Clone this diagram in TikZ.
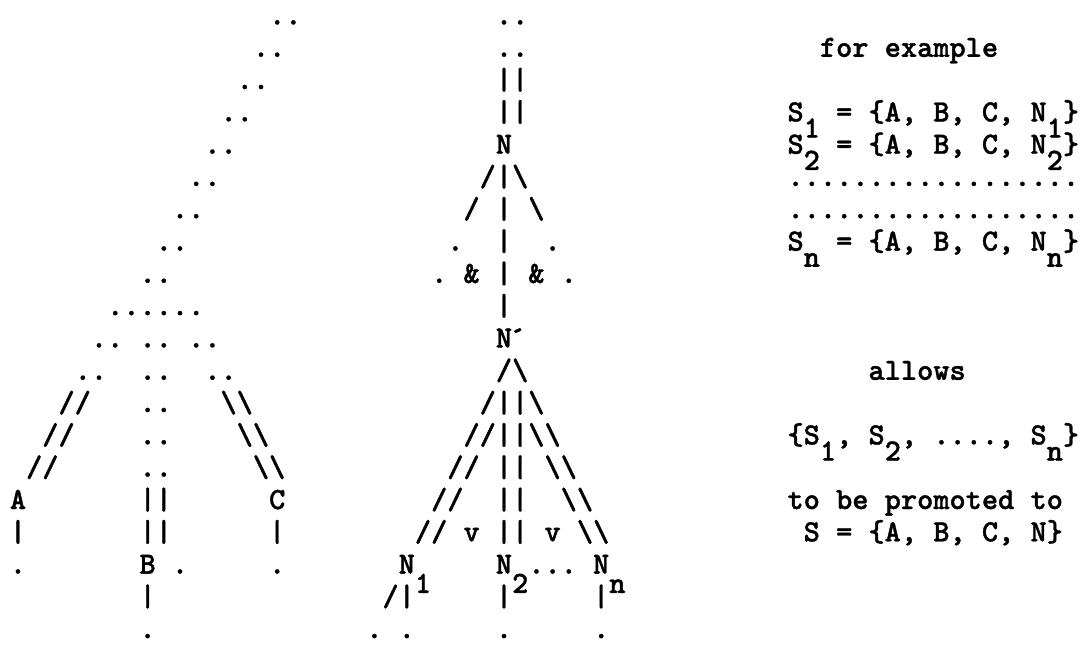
\documentclass[tikz,border=0pt]{standalone}
\usepackage{fontspec}
\newfontfamily\typeface{lmmonolt10-bold}[Extension=.otf, FakeBold=1.2]
\newcommand{\typefont}{\fontsize{15.43pt}{18pt}\selectfont\typeface}
\tikzset{
  glyph/.style={anchor=base, inner sep=0pt, outer sep=0pt, font=\typefont},
  typed/.style={anchor=base west, inner sep=0pt, outer sep=0pt, font=\typefont},
}
\newcommand{\strike}[3]{%
  % row, character, columns of that row.
  \pgfmathtruncatemacro{\rr}{round(2*#1)}
  \foreach \c in {#3}{%
    \node[glyph] (g\rr-\c) at (\c,#1) {#2};
  }
}
\begin{document}
\begin{tikzpicture}[x=8.1pt,y=-16.15pt]
  \path[use as bounding box] (-9pt,12.25pt) rectangle (534.5pt,-309.75pt);
  % left tree
  \foreach \r in {0,...,8}{%
    \pgfmathtruncatemacro{\ca}{16-\r}
    \pgfmathtruncatemacro{\cb}{17-\r}
    \strike{\r}{.}{\ca,\cb}
  }
  \strike{9}{.}{6,7,8,9,10,11}
  \strike{10}{.}{5,6,8,9,11,12}
  \strike{11}{.}{4,5,8,9,12,13}
  \foreach \r in {12,13,14}{%
    \pgfmathtruncatemacro{\ca}{15-\r}
    \pgfmathtruncatemacro{\cb}{16-\r}
    \pgfmathtruncatemacro{\cc}{\r+1}
    \pgfmathtruncatemacro{\cd}{\r+2}
    \strike{\r}{/}{\ca,\cb}
    \strike{\r}{.}{8,9}
    \strike{\r}{\textbackslash}{\cc,\cd}
  }
  \strike{15}{A}{0}
  \strike{15}{|}{8,9}
  \strike{15}{C}{16}
  \strike{16}{|}{0,8,9,16}
  \strike{17}{.}{0,10,16}
  \strike{17}{B}{8}
  \strike{18}{|}{8}
  \strike{19}{.}{8}
  % middle tree
  \strike{0}{.}{30,31}
  \strike{1}{.}{30,31}
  \strike{2}{|}{30,31}
  \strike{3}{|}{30,31}
  \strike{4}{N}{30}
  \strike{5}{/}{29}
  \strike{5}{\textbackslash}{31}
  \strike{6}{/}{28}
  \strike{6}{\textbackslash}{32}
  \strike{7}{.}{27,33}
  \strike{8}{.}{26,34}
  \strike{8}{\&}{28,32}
  \foreach \r in {5,...,9}{\strike{\r}{|}{30}}
  \strike{10}{N}{30}
  \node[glyph] (nprime) at (30.85,10) {´};
  \strike{11}{/}{30}
  \strike{11}{\textbackslash}{31}
  \strike{12}{/}{29}
  \strike{12}{\textbackslash}{32}
  \foreach \r in {13,...,16}{%
    \pgfmathtruncatemacro{\ca}{41-\r}
    \pgfmathtruncatemacro{\cb}{42-\r}
    \pgfmathtruncatemacro{\cc}{\r+19}
    \pgfmathtruncatemacro{\cd}{\r+20}
    \strike{\r}{/}{\ca,\cb}
    \strike{\r}{\textbackslash}{\cc,\cd}
  }
  \foreach \r in {12,...,16}{\strike{\r}{|}{30,31}}
  \strike{16}{v}{28,33}
  \strike{17}{N}{24,30,36}
  \strike{17}{.}{32,33,34}
  \strike{17.6}{1}{25}
  \strike{17.6}{2}{31}
  \strike{17.6}{n}{37}
  \strike{18}{/}{23}
  \strike{18}{|}{24,30,36}
  \strike{19}{.}{22,24,30,36}
  % right-hand text
  \node[typed] (forex) at (49.5,1) {for example};
  \node[typed] (setone) at (47.5,3) {S~~=~\{A,~B,~C,~N~\}};
  \strike{3.5}{1}{49,64}
  \node[typed] (settwo) at (47.5,4) {S~~=~\{A,~B,~C,~N~\}};
  \strike{4.5}{2}{49,64}
  \node[typed] (dotsa) at (47.5,5) {..................};
  \node[typed] (dotsb) at (47.5,6) {..................};
  \node[typed] (setn) at (47.5,7) {S~~=~\{A,~B,~C,~N~\}};
  \strike{7.5}{n}{49,64}
  \node[typed] (allows) at (52.5,11) {allows};
  \node[typed] (family) at (47.5,13) {\{S~,~S~,~....,~S~\}};
  \strike{13.5}{1}{50}
  \strike{13.5}{2}{54}
  \strike{13.5}{n}{64}
  \node[typed] (promo) at (47.5,15) {to be promoted to};
  \node[typed] (setall) at (48.5,16) {S = \{A, B, C, N\}};
\end{tikzpicture}
\end{document}
